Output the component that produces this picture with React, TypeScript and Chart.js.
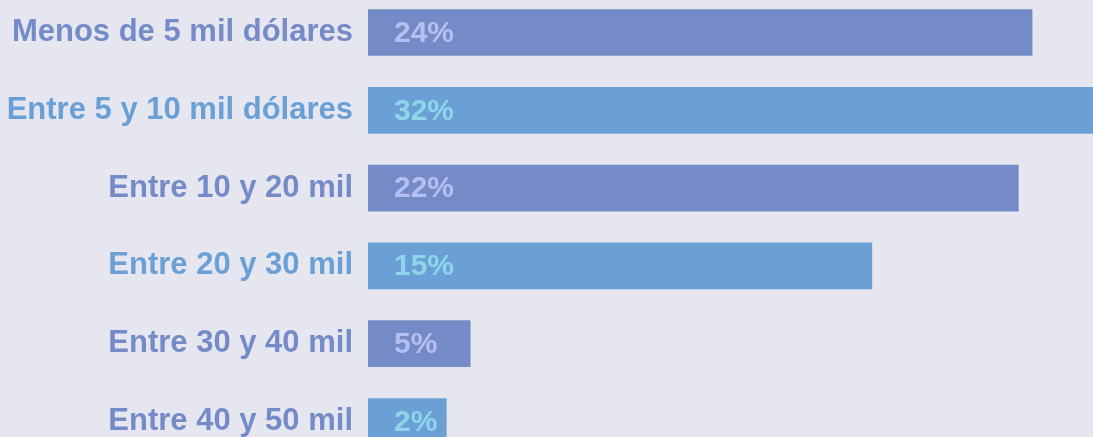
import React, { useEffect, useRef } from "react";
import { Chart, registerables } from "chart.js";

Chart.register(...registerables);

const categories = [
  "Menos de 5 mil dólares",
  "Entre 5 y 10 mil dólares",
  "Entre 10 y 20 mil",
  "Entre 20 y 30 mil",
  "Entre 30 y 40 mil",
  "Entre 40 y 50 mil",
];
// bar lengths as drawn (percent of axis range)
const barLengths = [91.6, 105, 89.7, 69.5, 14.1, 10.8];
const valueLabels = ["24%", "32%", "22%", "15%", "5%", "2%"];

const DARK = "#758bc7";
const BLUE = "#6ba0d6";
const barColors = [DARK, BLUE, DARK, BLUE, DARK, BLUE];
const tickColors = [DARK, BLUE, DARK, BLUE, DARK, DARK];
const valueColors = ["#b6bff2", "#8fd5ea", "#b6bff2", "#8fd5ea", "#b6bff2", "#8fd5ea"];
const BG = "#e6e6f0";
const FONT = "'Liberation Sans', Arial, Helvetica, sans-serif";

export default function App() {
  const ref = useRef<HTMLCanvasElement | null>(null);
  useEffect(() => {
    document.body.style.margin = "0";
    document.body.style.background = BG;
    document.documentElement.style.overflow = "hidden";
    const canvas = ref.current!;
    const valuePlugin = {
      id: "valueLabels",
      afterDatasetsDraw(chart: any) {
        const ctx = chart.ctx;
        const meta = chart.getDatasetMeta(0);
        ctx.save();
        ctx.font = `bold 30px ${FONT}`;
        ctx.textAlign = "left";
        ctx.textBaseline = "middle";
        meta.data.forEach((bar: any, i: number) => {
          ctx.fillStyle = valueColors[i];
          ctx.fillText(valueLabels[i], bar.base + 26, bar.y + 1);
        });
        ctx.restore();
      },
    };
    const chart = new Chart(canvas, {
      type: "bar",
      data: {
        labels: categories,
        datasets: [
          {
            data: barLengths,
            backgroundColor: barColors,
            borderWidth: 0,
            barThickness: 46,
          },
        ],
      },
      options: {
        indexAxis: "y",
        responsive: false,
        maintainAspectRatio: false,
        animation: false,
        layout: { padding: 0 },
        plugins: { legend: { display: false }, tooltip: { enabled: false } },
        scales: {
          x: {
            display: false,
            min: 0,
            max: 100,
          },
          y: {
            grid: { display: false, drawTicks: false },
            border: { display: false },
            ticks: {
              color: tickColors,
              font: { family: FONT, size: 31, weight: "bold" },
              padding: 15,
            },
            afterFit(scale: any) {
              scale.width = 368;
            },
          },
        },
      },
      plugins: [valuePlugin],
    });
    return () => chart.destroy();
  }, []);
  return (
    <div style={{ position: "absolute", left: 0, top: -40, width: 1093, height: 534, background: BG }}>
      <canvas ref={ref} width={1093} height={534} style={{ display: "block" }} />
    </div>
  );
}
